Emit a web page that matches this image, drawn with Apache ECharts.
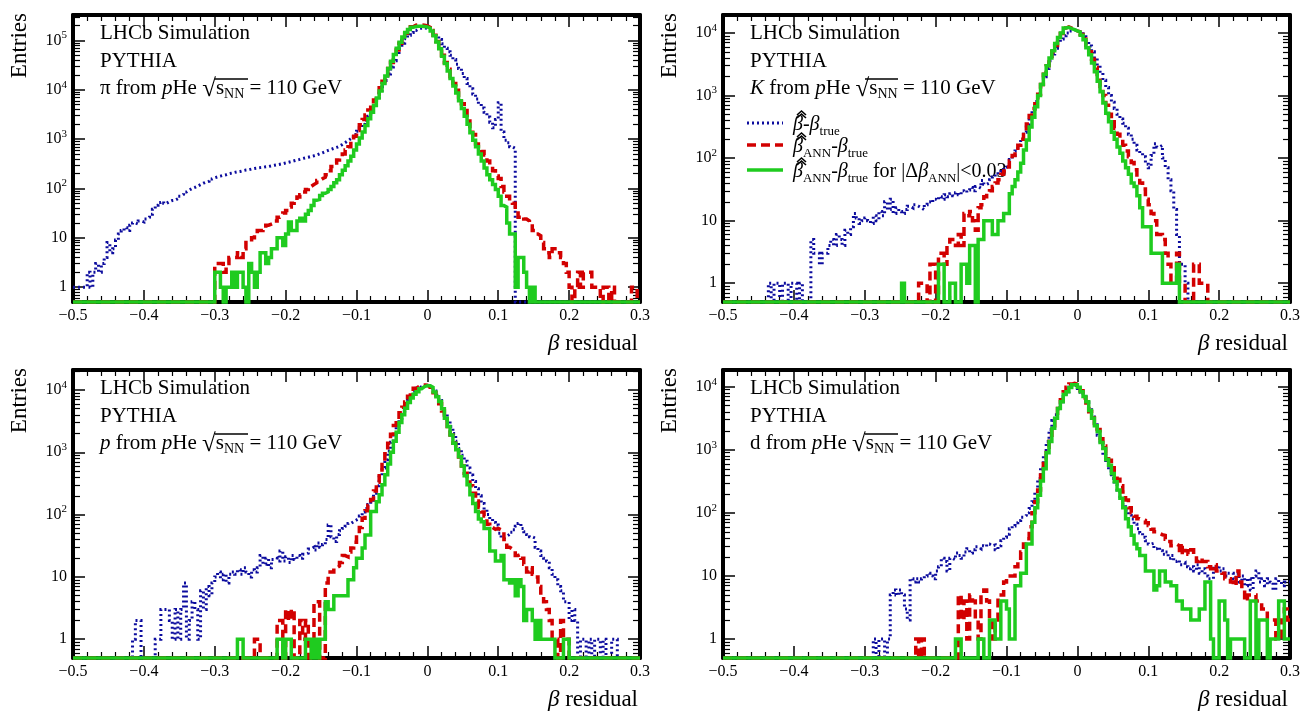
<!DOCTYPE html>
<html><head><meta charset="utf-8">
<script src="https://cdn.jsdelivr.net/npm/echarts@6/dist/echarts.min.js"></script>
<style>html,body{margin:0;padding:0;background:#fff}#c{width:1306px;height:714px}</style>
</head><body><div id="c"></div>
<script>
// ---------------- data ----------------
const X_MIN = -0.5, X_MAX = 0.3, BIN_W = 0.004, N_BINS = 200;
const Y_FLOOR = 0.5;
const xTickLabels = ['\u22120.5','\u22120.4','\u22120.3','\u22120.2','\u22120.1','0','0.1','0.2','0.3'];
const yTickLabels = ['1','10','{b|10}{s|2}','{b|10}{s|3}','{b|10}{s|4}','{b|10}{s|5}'];
const particles = ['\u03c0','K','p','d'];
const particleItalic = [false,true,true,false];

// pi panel
const piDotStart = -0.500;
const piDot = [1,1,1,1,1,2,1,2,3,2, 3,4,8,5,6,9,12,14,16,14, 18,20,19,22,21,24,26,30,38,46,
 52,55,50,54,57,58,62,70,76,85, 93,100,105,112,120,128,135,140,155,165,
 172,178,185,190,200,205,212,218,222,230, 236,240,248,255,260,265,268,275,280,288,
 295,302,310,318,330,340,352,365,378,390, 405,418,430,445,460,480,505,530,560,590,
 620,650,680,720,780,850,930,1020,1120,1250, 1450,1700,2000,2400,2900,3600,4600,6200,8500,11500,
 15500,21000,29000,39000,52000,68000,88000,108000,128000,145000,
 160000,172000,178000,180000,176000,168000,158000,142000,124000,105000,
 86000,70000,59000,50000,41000,33000,27000,21500,17000,13500,
 10500,8200,6500,5200,4300,3500,2800,2200,1700,2500, 5500,1400,950,850,700,650,0];
const piDashStart = -0.300;
const piDash = [3,3,3,2,3,4,4,4,5,4, 6,8,8,10,12,14,14,16,18,19, 20,22,26,28,32,36,42,50,58,67,
 75,85,95,110,120,130,145,158,170,190, 230,280,330,380,430,500,600,700,900,1150,
 1500,1950,2500,3100,3900,4800,6200,8000,11000,15000,
 20000,27000,36000,48000,64000,88000,115000,140000,165000,190000,
 205000,210000,208000,205000,198000,185000,160000,128000,95000,70000,
 50000,36000,26000,18500,13500,9800,7200,5200,3800,2700,
 1800,1250,800,650,560,480,360,280,230,180, 160,110,85,70,55,50,32,26,28,24,
 22,19,14,12,11,8,6,5,4,6, 5,5,4,3,2,1,0,1,2,1, 2,2,2,1,1,1,0,1,1,0, 1,0,0,0,0,0,0,1,1,0];
const piSolidStart = -0.300;
const piSolid = [2,2,1,0,1,1,2,1,2,2, 1,0,3,2,1,2,5,5,3,4, 6,6,10,10,7,12,21,14,14,22,
 25,22,30,36,45,58,60,72,80,85, 95,110,130,150,190,235,290,360,450,600,
 800,1050,1400,1900,2600,3500,4800,6800,9500,13500,
 19000,27000,38000,52000,70000,92000,118000,145000,168000,185000,
 192000,195000,194000,192000,188000,178000,155000,125000,93000,68000,
 48000,34000,24000,17000,12000,8600,6000,4200,2900,2000,
 1350,950,700,500,360,260,190,150,120,95, 70,45,42,20,12,12,1,4,4,2, 1,0,1,0];

// K panel
const kDotStart = -0.436;
const kDot = [1,0,1,1,0,1,1,0,1,1, 0,1,0,0,0,5,3,3,2,3, 3,4,5,4,6,5,4,7,6,8,
 13,11,9,10,11,10,9,12,10,14, 12,20,15,22,13,16,14,13,15,17, 16,18,17,16,15,18,20,19,22,21,
 24,22,26,24,27,25,28,26,30,28, 31,34,30,35,33,44,38,40,45,50, 55,60,65,72,80,95,110,130,160,200,
 260,340,450,600,800,1050,1400,2000,2700,3600, 4600,5700,6900,8000,9000,10000,10800,11200,11000,10500,
 9700,8700,7500,6200,5000,3900,3000,2300,1750,1350, 1000,780,620,500,420,360,300,240,200,160,
 135,120,105,80,70,110,170,150,160,100, 70,45,30,15,6,2,2,1,0];
const kDashStart = -0.224;
const kDash = [1,1,1,0,2,2,0,3,3,2, 4,5,5,4,6,4,13,12,14,10, 7,16,18,24,27,30,35,40,45,55,
 62,72,90,110,130,160,200,270,350,480, 620,800,1050,1500,2200,3000,3900,5000,6300,7800,
 9800,12000,12500,12000,11300,10800,10400,9500,8000,6300, 5000,3800,2800,2000,1400,1000,700,500,380,300,
 240,200,160,130,105,85,65,50,40,32, 22,18,13,10,6,6,5,3,2,1, 1,3,1,1,0,0,0,2,2,1, 1,1,0];
const kSolidStart = -0.248;
const kSolid = [1,0,0,0,0,0,0,0,0,0, 0,0,0,2,2,0,0,1,1,0, 0,2,2,1,4,4,0,5,5,10,
 10,10,6,6,10,10,13,13,27,35, 45,60,83,135,195,315,450,660,1000,1500,
 2200,3000,4000,5200,6800,8500,10000,12000,12300,11800, 11300,10800,10400,9200,7800,5800,4500,3300,2400,1700,
 1150,760,520,380,260,200,150,120,90,70, 55,40,35,25,16,8,8,8,3,3, 3,3,1,1,1,1,1,2,0];

// p panel
const pDotStart = -0.416;
const pDot = [1,2,2,0,0,0,0,0,1,1, 3,3,3,2,1,3,1,3,8,1, 2,4,3,1,6,3,7,5,8,10,
 12,9,11,8,11,12,11,13,11,14, 12,10,13,12,14,22,16,20,14,19, 20,18,26,18,21,17,22,19,22,20,
 23,24,28,30,27,35,30,33,40,68, 44,37,48,55,60,65,72,77,82,87, 95,110,125,145,170,220,290,400,560,760,
 1050,1450,2000,2700,3500,4600,5700,7000,8400,9500, 10600,11300,11800,12000,11600,10800,9600,8200,6800,5400,
 4200,3300,2600,2000,1500,1150,900,720,560,430, 340,260,200,150,120,100,85,75,68,50,
 42,45,48,52,57,65,72,60,53,48, 44,42,30,26,22,20,18,14,11,9, 7,6,4,4,2,3,2,0,1,1,
 0,1,0,1,1,0,1,0,0,1, 1,0];
const pDashStart = -0.244;
const pDash = [1,1,0,0,0,0,0,0,2,2, 0,3,2,3,0,0,2,1,2,0, 0,4,4,0,0,8,12,12,14,15,
 17,22,21,25,29,36,47,62,87,115, 140,175,240,330,470,680,950,1400,1950,2700,
 3400,4300,5300,6400,7900,9400,10600,11300,11800,12000, 11900,11200,10300,9000,7500,6000,4600,3500,2600,1900,
 1400,1050,780,600,460,360,290,220,165,130, 110,95,70,62,58,60,57,55,40,30,
 28,27,22,23,20,16,12,14,11,10, 7,5,4,3,2,1,1,0,2,1, 1,0];
const pSolidStart = -0.268;
const pSolid = [1,1,0,0,0,0,0,0,0,0, 0,0,0,0,1,1,0,1,1,0, 0,0,0,0,1,1,0,1,0,1,
 1,4,3,3,5,5,5,5,5,9, 9,14,20,20,29,47,47,112,112,160, 208,300,435,650,1000,1500,2100,3000,4000,5100,
 6300,7400,8500,9400,10500,11300,11700,11700,11000,9300, 7800,6500,5000,3500,2600,1900,1400,1100,850,600,
 420,300,208,150,112,85,77,60,60,26, 26,18,18,22,9,9,8,9,5,9, 7,2,3,3,2,1,2,1,1,1, 1,1,0,0,0,1,1,0];

// d panel
const dDotStart = -0.288;
const dDot = [1,0,1,1,0,1,5,6,5,6, 5,3,2,9,8,9,8,9,10,11, 10,9,12,14,19,17,12,19,18,23,
 21,19,24,27,23,26,29,27,30,29, 32,30,31,26,30,36,41,46,56,62, 70,76,85,91,100,117,150,220,350,520,
 820,1350,2100,2900,3600,4600,5800,7000,8300,9800, 10700,10300,9400,8200,7000,5600,4300,3300,2500,1700,
 1200,820,620,460,350,280,230,180,135,110, 92,80,66,56,48,41,36,32,33,27, 29,25,22,24,19,21,17,18,15,16,
 14,13,14,12,15,11,13,10,9,9, 14,15,12,13,10,11,11,9,11,8, 10,7,9,6,10,12,8,9,7,9, 8,6,9,8,7,8,8];
const dDashStart = -0.228;
const dDash = [1,0,1,0,0,0,0,0,0,0, 0,0,0,0,0,5,2,4,1,5, 4,2,1,5,6,4,2,1,2,5,
 5,8,10,10,10,14,19,24,32,39, 60,100,150,230,400,650,1100,1700,2400,3300,
 4500,6200,8300,9800,11000,11300,11000,10500,8600,6600, 5000,4000,3200,2600,2100,1500,1150,880,680,520,
 420,340,270,215,160,120,100,88,81,78, 76,70,63,55,50,47,45,44,38,35, 30,32,30,22,30,25,22,26,21,17,
 19,17,17,14,13,15,12,12,11,9, 9,8,7,12,8,6,4,5,5,5, 4,4,3,3,2,2,2,1,1,2, 3,2];
const dSolidStart = -0.172;
const dSolid = [1,1,0,0,0,0,0,0,1,1, 0,0,2,2,1,1,4,4,3,1, 1,7,7,11,11,32,32,71,120,190,
 320,500,900,1350,2200,3150,4500,5800,7500,8300, 9700,10700,10700,9800,8300,7000,5800,4200,3150,2400,
 1950,1300,1050,700,570,420,310,230,170,120, 81,60,44,32,27,21,21,12,12,12, 6,7,12,12,8,8,7,7,4,4,
 3,3,3,2,2,2,3,3,8,8, 1,0,0,4,4,2,0,1,1,1, 1,1,0,0,4,4,0,2,2,2, 0,1,1,1,4,4,1,1];

// ---------------- build ----------------
const FONT = "'Liberation Serif', 'DejaVu Serif', serif";
const C_BLUE = '#0c0c9e', C_RED = '#d20000', C_GREEN = '#1fcb1f';

function histPoints(start, values) {
  const off = Math.round((start - X_MIN) / BIN_W);
  const pts = [];
  for (let i = 0; i < N_BINS; i++) {
    const j = i - off;
    const v = (j >= 0 && j < values.length) ? values[j] : 0;
    pts.push([+(X_MIN + i * BIN_W).toFixed(4), v > Y_FLOOR ? v : Y_FLOOR]);
  }
  pts.push([X_MAX, pts[pts.length - 1][1]]);
  return pts;
}

const panelData = [
  [[piDotStart, piDot], [piDashStart, piDash], [piSolidStart, piSolid]],
  [[kDotStart, kDot], [kDashStart, kDash], [kSolidStart, kSolid]],
  [[pDotStart, pDot], [pDashStart, pDash], [pSolidStart, pSolid]],
  [[dDotStart, dDot], [dDashStart, dDash], [dSolidStart, dSolid]]
];

const layout = [
  {left: 73, top: 15, height: 287, yMax: 3.29e5},
  {left: 723, top: 15, height: 287, yMax: 1.94e4},
  {left: 73, top: 370, height: 288, yMax: 2.09e4},
  {left: 723, top: 370, height: 288, yMax: 1.84e4}
];
const W = 567;

function yFmt(v) {
  const l = Math.log10(v);
  const k = Math.round(l);
  if (Math.abs(l - k) > 1e-6 || k < 0 || k >= yTickLabels.length) return '';
  return yTickLabels[k];
}
function xFmt(v) {
  const k = Math.round((v - X_MIN) / 0.1);
  if (Math.abs(X_MIN + k * 0.1 - v) > 1e-6) return '';
  return xTickLabels[k] || '';
}

const grid = [], xAxis = [], yAxis = [], series = [], graphic = [];
const styles = [
  {color: C_BLUE, width: 3, type: [2, 3]},
  {color: C_RED, width: 3.5, type: [9, 5]},
  {color: C_GREEN, width: 3.5, type: 'solid'}
];

layout.forEach((L, g) => {
  grid.push({left: L.left, top: L.top, width: W, height: L.height, containLabel: false});
  const xBase = {
    type: 'value', gridIndex: g, min: X_MIN, max: X_MAX, interval: 0.1,
    axisLine: {show: true, onZero: false, lineStyle: {color: '#000', width: 4}},
    axisTick: {show: true, inside: true, length: 12, lineStyle: {color: '#000', width: 1.5}},
    minorTick: {show: true, splitNumber: 5, length: 6, lineStyle: {color: '#000', width: 1.2}},
    splitLine: {show: false}, minorSplitLine: {show: false}
  };
  xAxis.push(Object.assign({}, xBase, {position: 'bottom',
    axisLabel: {show: true, formatter: xFmt, fontFamily: FONT, fontSize: 16, color: '#000', margin: 6}}));
  xAxis.push(Object.assign({}, xBase, {position: 'top', axisLabel: {show: false}}));
  const yBase = {
    type: 'log', logBase: 10, gridIndex: g, min: Y_FLOOR, max: L.yMax,
    axisLine: {show: true, onZero: false, lineStyle: {color: '#000', width: 4}},
    axisTick: {show: true, inside: true, length: 12, lineStyle: {color: '#000', width: 1.5}},
    minorTick: {show: true, splitNumber: 9, length: 7, lineStyle: {color: '#000', width: 1.2}},
    splitLine: {show: false}, minorSplitLine: {show: false}
  };
  yAxis.push(Object.assign({}, yBase, {position: 'left',
    axisLabel: {show: true, formatter: yFmt, fontFamily: FONT, fontSize: 16, color: '#000', margin: 6,
      showMinLabel: false, showMaxLabel: false,
      rich: {b: {fontFamily: FONT, fontSize: 16, color: '#000'},
             s: {fontFamily: FONT, fontSize: 11, color: '#000', padding: [0, 0, 10, 0]}}}}));
  yAxis.push(Object.assign({}, yBase, {position: 'right', axisLabel: {show: false}}));

  panelData[g].forEach((sd, k) => {
    series.push({
      type: 'line', xAxisIndex: 2 * g, yAxisIndex: 2 * g, data: histPoints(sd[0], sd[1]),
      step: 'end', symbol: 'none', showSymbol: false, clip: false, silent: true,
      lineStyle: {color: styles[k].color, width: styles[k].width, type: styles[k].type, cap: 'butt', join: 'miter'},
      z: 3 + k
    });
  });

  // text
  const tx = L.left + 27;
  graphic.push({type: 'text', x: tx, y: L.top + 18, style: {text: 'LHCb Simulation', font: '21px ' + FONT, fill: '#000', verticalAlign: 'middle'}});
  graphic.push({type: 'text', x: tx, y: L.top + 46, style: {text: 'PYTHIA', font: '21px ' + FONT, fill: '#000', verticalAlign: 'middle'}});
  graphic.push({type: 'text', x: tx, y: L.top + 73, style: {
    text: '{' + (particleItalic[g] ? 'i' : 'r') + '|' + particles[g] + '}{r| from }{i|p}{r|He }{sq|\u221a}{r|s}{sub|NN}{r| = 110 GeV}',
    verticalAlign: 'middle',
    rich: {
      r: {fontFamily: FONT, fontSize: 21, fill: '#000'},
      i: {fontFamily: FONT, fontSize: 21, fontStyle: 'italic', fill: '#000'},
      sq: {fontFamily: FONT, fontSize: 25, fontWeight: 'bold', fill: '#000', padding: [4, 0, 0, 0]},
      sub: {fontFamily: FONT, fontSize: 14, fill: '#000', padding: [12, 0, 0, 0]}
    }}});
  graphic.push({type: 'line', shape: {x1: L.left + 142, y1: L.top + 64, x2: L.left + 175, y2: L.top + 64},
    style: {stroke: '#000', lineWidth: 1.3}});
  graphic.push({type: 'text', x: L.left - 53, y: L.top - 2, rotation: Math.PI / 2, style: {
    text: 'Entries', font: '23px ' + FONT, fill: '#000', align: 'right', verticalAlign: 'middle'}});
  graphic.push({type: 'text', x: L.left + 565, y: L.top + L.height + 42, style: {
    text: '{b|\u03b2}{r| residual}', align: 'right', verticalAlign: 'middle',
    rich: {b: {fontFamily: FONT, fontSize: 23, fontStyle: 'italic', fill: '#000'},
           r: {fontFamily: FONT, fontSize: 23, fill: '#000'}}}});
});

// legend (panel 2)
const LG = layout[1];
const legRows = [
  '{bh|\u03b2}{r|-}{bi|\u03b2}{sub|true}',
  '{bh|\u03b2}{sub|ANN}{r|-}{bi|\u03b2}{sub|true}',
  '{bh|\u03b2}{sub|ANN}{r|-}{bi|\u03b2}{sub|true}{r| for |\u0394}{bi|\u03b2}{sub|ANN}{r||<0.03}'
];
const legY = [108, 130, 155];
legRows.forEach((t, k) => {
  const yy = LG.top + legY[k];
  graphic.push({type: 'line', shape: {x1: LG.left + 24, y1: yy, x2: LG.left + 60, y2: yy},
    style: {stroke: styles[k].color, lineWidth: styles[k].width, lineDash: Array.isArray(styles[k].type) ? styles[k].type : null}});
  graphic.push({type: 'text', x: LG.left + 70, y: yy + 2, style: {
    text: t, verticalAlign: 'middle',
    rich: {
      r: {fontFamily: FONT, fontSize: 20, fill: '#000'},
      bh: {fontFamily: FONT, fontSize: 20, fontStyle: 'italic', fill: '#000'},
      bi: {fontFamily: FONT, fontSize: 20, fontStyle: 'italic', fill: '#000'},
      sub: {fontFamily: FONT, fontSize: 13, fill: '#000', padding: [14, 0, 0, 0]}
    }}});
  // hat accent over the first beta
  [0, 3].forEach(d => {
    graphic.push({type: 'polyline', shape: {points: [[LG.left + 74, yy - 5 - d], [LG.left + 78.5, yy - 9 - d], [LG.left + 83, yy - 5 - d]]},
      style: {stroke: '#000', lineWidth: 1.6, fill: null}});
  });
});

const chart = echarts.init(document.getElementById('c'), null, {renderer: 'canvas'});
chart.setOption({
  animation: false,
  backgroundColor: '#fff',
  grid, xAxis, yAxis, series, graphic
});
</script>
</body></html>
